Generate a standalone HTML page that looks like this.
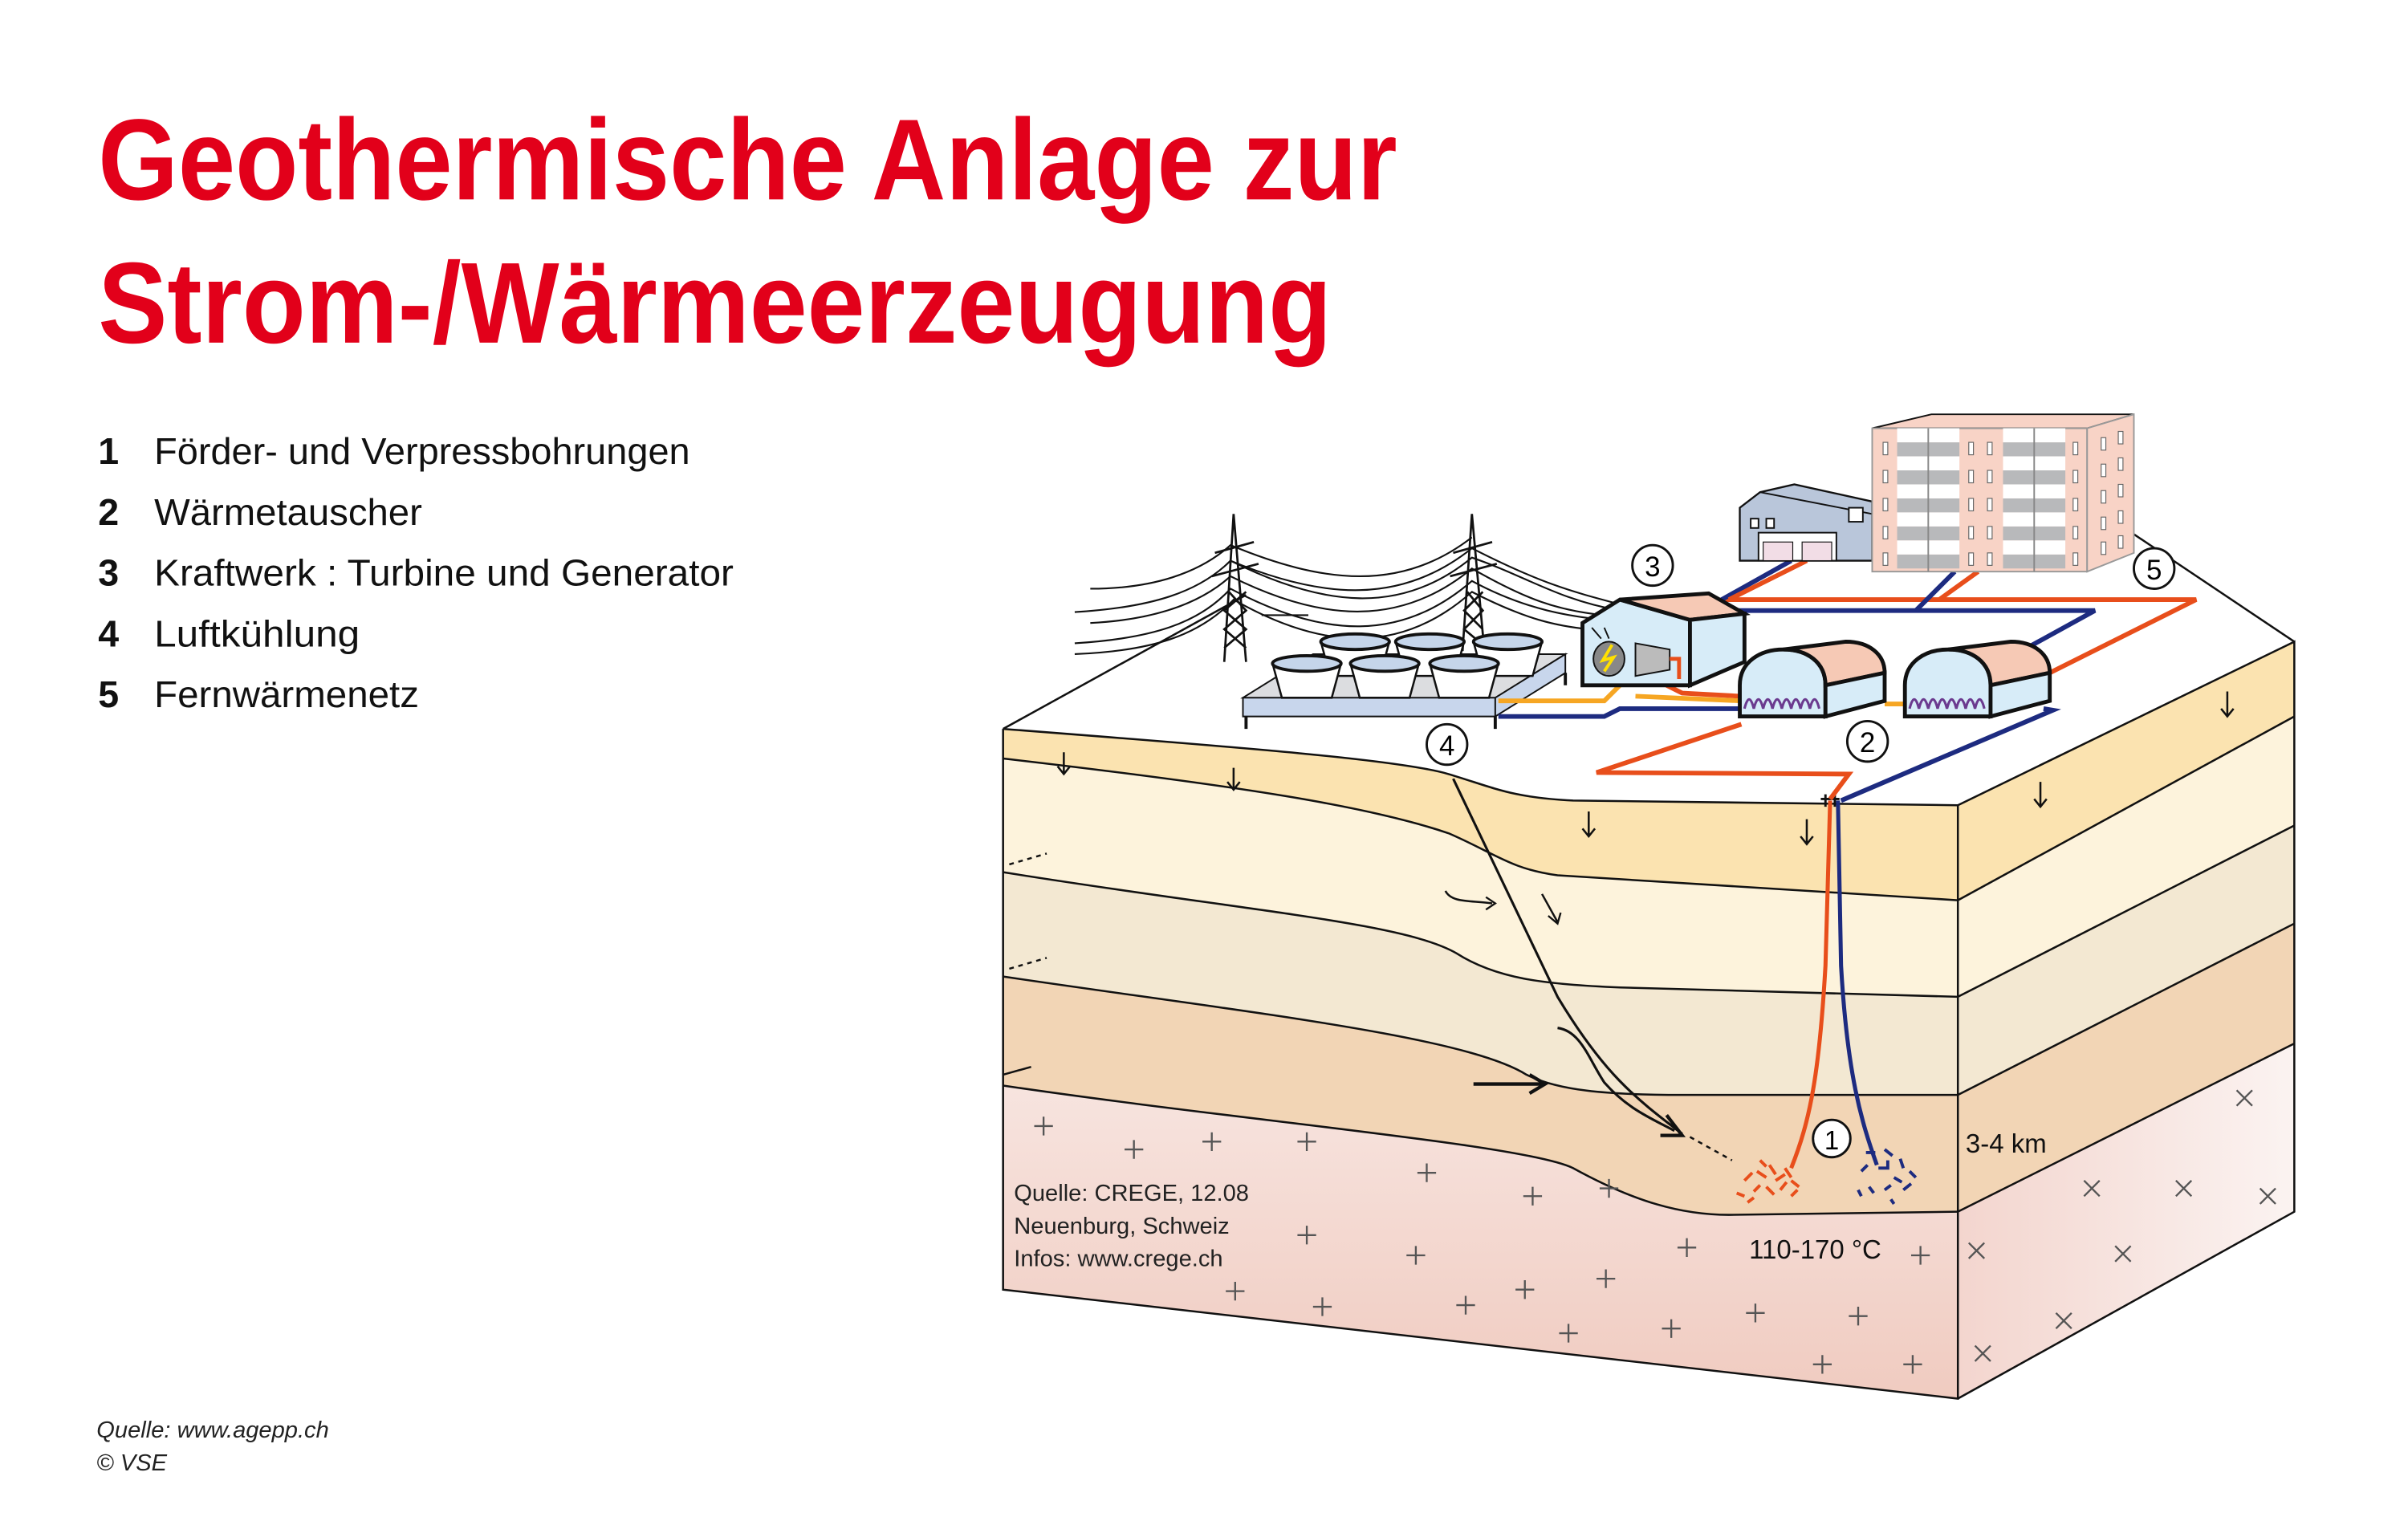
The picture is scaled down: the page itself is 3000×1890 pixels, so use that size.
<!DOCTYPE html>
<html><head><meta charset="utf-8"><style>
html,body{margin:0;padding:0;background:#fff}
svg{display:block}
text{font-family:"Liberation Sans Narrow","Liberation Sans",sans-serif}
</style></head><body>
<svg width="3000" height="1890" viewBox="0 0 1546 974" preserveAspectRatio="none" xmlns="http://www.w3.org/2000/svg">
<defs>
<linearGradient id="pk" x1="0" y1="0" x2="0" y2="1"><stop offset="0" stop-color="#f7e4df"/><stop offset="1" stop-color="#f0cbc0"/></linearGradient>
<linearGradient id="pk2" x1="0" y1="0" x2="1" y2="0"><stop offset="0" stop-color="#f3d5ce"/><stop offset="1" stop-color="#fbf3f1"/></linearGradient>
</defs>
<!-- Title -->
<text x="63" y="128" font-size="74" font-weight="bold" fill="#e2001a" textLength="834" lengthAdjust="spacingAndGlyphs">Geothermische Anlage zur</text>
<text x="63" y="220" font-size="74" font-weight="bold" fill="#e2001a" textLength="792" lengthAdjust="spacingAndGlyphs">Strom-/Wärmeerzeugung</text>
<!-- list -->
<g font-size="24" fill="#111">
<text x="63" y="298" font-weight="bold">1</text><text x="99" y="298" textLength="344" lengthAdjust="spacingAndGlyphs">Förder- und Verpressbohrungen</text>
<text x="63" y="337" font-weight="bold">2</text><text x="99" y="337" textLength="172" lengthAdjust="spacingAndGlyphs">Wärmetauscher</text>
<text x="63" y="376" font-weight="bold">3</text><text x="99" y="376" textLength="372" lengthAdjust="spacingAndGlyphs">Kraftwerk : Turbine und Generator</text>
<text x="63" y="415" font-weight="bold">4</text><text x="99" y="415" textLength="132" lengthAdjust="spacingAndGlyphs">Luftkühlung</text>
<text x="63" y="454" font-weight="bold">5</text><text x="99" y="454" textLength="170" lengthAdjust="spacingAndGlyphs">Fernwärmenetz</text>
</g>
<g font-size="15" font-style="italic" fill="#222">
<text x="62" y="923">Quelle: www.agepp.ch</text>
<text x="62" y="944">© VSE</text>
</g>

<!-- Block right face -->
<polygon points="1257,517 1473,412 1473,778 1257,898" fill="#fdf3dc"/>
<polygon points="1257,517 1473,412 1473,460 1257,578" fill="#fbe3b0"/>
<polygon points="1257,640 1473,530 1473,593 1257,703" fill="#f3e8d2"/>
<polygon points="1257,703 1473,593 1473,670 1257,778" fill="#f2d5b5"/>
<polygon points="1257,778 1473,670 1473,778 1257,898" fill="url(#pk2)"/>
<g stroke="#111" stroke-width="1.3" fill="none">
<polyline points="1257,578 1473,460"/><polyline points="1257,640 1473,530"/><polyline points="1257,703 1473,593"/><polyline points="1257,778 1473,670"/>
<polyline points="1257,517 1473,412 1473,778 1257,898"/>
</g>
<!-- front face layers -->
<path d="M644,697 C800,720 980,735 1010,750 C1050,772 1080,780 1110,780 L1257,778 L1257,898 L644,828 Z" fill="url(#pk)"/>
<path d="M644,627 C800,650 940,665 980,690 C1000,700 1030,703 1080,703 L1257,703 L1257,778 L1110,780 C1080,780 1050,772 1010,750 C980,735 800,720 644,697 Z" fill="#f2d5b5"/>
<path d="M644,560 C800,585 900,592 935,612 C960,628 990,632 1040,634 L1257,640 L1257,703 L1080,703 C1030,703 1000,700 980,690 C940,665 800,650 644,627 Z" fill="#f3e8d2"/>
<path d="M644,487 C800,505 880,518 930,535 C960,548 970,558 1000,562 L1257,578 L1257,640 L1040,634 C990,632 960,628 935,612 C900,592 800,585 644,560 Z" fill="#fdf3dc"/>
<path d="M644,468 C800,480 900,488 930,497 C960,506 970,512 1010,514 L1257,517 L1257,578 L1000,562 C970,558 960,548 930,535 C880,518 800,505 644,487 Z" fill="#fbe3b0"/>
<g stroke="#111" stroke-width="1.3" fill="none">
<path d="M644,468 C800,480 900,488 930,497 C960,506 970,512 1010,514 L1257,517"/>
<path d="M644,487 C800,505 880,518 930,535 C960,548 970,558 1000,562 L1257,578"/>
<path d="M644,560 C800,585 900,592 935,612 C960,628 990,632 1040,634 L1257,640"/>
<path d="M644,627 C800,650 940,665 980,690 C1000,700 1030,703 1080,703 L1257,703"/>
<path d="M644,697 C800,720 980,735 1010,750 C1050,772 1080,780 1110,780 L1257,778"/>
<polyline points="644,468 644,828 1257,898 1257,517"/>
<path d="M933,500 L1000,640 C1030,690 1050,705 1080,728" stroke-width="1.6"/>
<path d="M1000,660 C1015,662 1020,680 1030,695 C1045,712 1060,718 1075,726" stroke-width="1.6"/>
<path d="M1085,730 L1112,745" stroke-dasharray="3,3"/>
<path d="M648,555 L672,548" stroke-dasharray="3,3"/><path d="M648,622 L672,615" stroke-dasharray="3,3"/>
<path d="M928,572 C932,580 945,578 958,580"/><path d="M990,574 L1000,592"/>
<path d="M644,690 L662,685"/>
</g>
<g stroke="#111" stroke-width="2.2" fill="none">
<path d="M946,696 L990,696"/><path d="M982,690 L992,696 L982,702"/>
<path d="M1070,716 L1080,729 L1066,729"/>
</g>
<g stroke="#111" stroke-width="1.2" fill="none">
<path d="M954,576 L960,580 L954,584"/><path d="M994,588 L1000,593 L1002,586"/>
</g>
<!-- small down arrows -->
<g stroke="#111" stroke-width="1.3" fill="none">
<path d="M683,483 v14 m-4,-5 l4,5 l4,-5"/>
<path d="M792,493 v14 m-4,-5 l4,5 l4,-5"/>
<path d="M1020,521 v16 m-4,-5 l4,5 l4,-5"/>
<path d="M1160,526 v16 m-4,-5 l4,5 l4,-5"/>
<path d="M1430,444 v16 m-4,-5 l4,5 l4,-5"/>
<path d="M1310,502 v16 m-4,-5 l4,5 l4,-5"/>
</g>
<!-- crosses -->
<g stroke="#555" stroke-width="1.2" fill="none">
<path d="M664,723h12m-6,-6v12 M722,738h12m-6,-6v12 M772,733h12m-6,-6v12 M833,733h12m-6,-6v12 M910,753h12m-6,-6v12 M978,768h12m-6,-6v12 M1027,763h12m-6,-6v12 M833,793h12m-6,-6v12 M903,806h12m-6,-6v12 M1077,801h12m-6,-6v12 M1227,806h12m-6,-6v12 M787,829h12m-6,-6v12 M843,839h12m-6,-6v12 M935,838h12m-6,-6v12 M973,828h12m-6,-6v12 M1025,821h12m-6,-6v12 M1001,856h12m-6,-6v12 M1067,853h12m-6,-6v12 M1121,843h12m-6,-6v12 M1187,845h12m-6,-6v12 M1164,876h12m-6,-6v12 M1222,876h12m-6,-6v12"/>
<path d="M1436,700l10,10m0,-10l-10,10 M1338,758l10,10m0,-10l-10,10 M1397,758l10,10m0,-10l-10,10 M1451,763l10,10m0,-10l-10,10 M1264,798l10,10m0,-10l-10,10 M1358,800l10,10m0,-10l-10,10 M1320,843l10,10m0,-10l-10,10 M1268,864l10,10m0,-10l-10,10"/>
</g>
<!-- wells -->
<path d="M1175,514 L1172,620 C1168,690 1162,720 1150,750" stroke="#e84e1b" stroke-width="2.6" fill="none"/>
<path d="M1180,514 L1182,620 C1186,690 1195,720 1205,748" stroke="#1d2b80" stroke-width="2.6" fill="none"/>
<path d="M1172,510 v8 M1178,510 v8 M1169,513 h12" stroke="#111" stroke-width="1.5"/>
<g stroke="#e84e1b" stroke-width="2" fill="none">
<path d="M1120,758l5,-5 M1128,752l6,4 M1136,748l4,6 M1140,758l6,-4 M1146,750l4,6 M1126,765l4,-4 M1134,762l5,5 M1143,764l4,-5 M1150,758l5,4 M1115,766l5,2 M1130,745l4,4 M1150,768l4,-4 M1122,772l4,-3"/>
</g>
<g stroke="#1d2b80" stroke-width="2" fill="none">
<path d="M1198,740h6 M1210,738l5,4 M1220,744l2,6 M1195,752l4,-4 M1206,750h6v-5 M1216,756l5,3 M1200,762l3,4 M1210,764l4,-3 M1222,764l5,-4 M1226,752l4,4 M1193,764l2,4 M1214,770l2,3"/>
</g>
<circle cx="1176" cy="731" r="12" fill="#fff" stroke="#111" stroke-width="1.5"/>
<text x="1176" y="738" font-size="17" text-anchor="middle">1</text>
<g font-size="17" fill="#111">
<text x="1262" y="740">3-4 km</text>
<text x="1123" y="808">110-170 °C</text>
</g>
<g font-size="15" fill="#222">
<text x="651" y="771">Quelle: CREGE, 12.08</text>
<text x="651" y="792">Neuenburg, Schweiz</text>
<text x="651" y="813">Infos:  www.crege.ch</text>
</g>

<!-- top surface edges -->
<g stroke="#111" stroke-width="1.3" fill="none">
<path d="M644,468 L800,382"/><path d="M1370,343 L1473,412"/>
</g>
<!-- power lines -->
<g stroke="#111" stroke-width="1.1" fill="none">
<path d="M700,378 C740,378 770,368 790,350 C850,375 900,380 945,345"/>
<path d="M690,393 C740,390 770,380 790,360 C850,390 900,395 945,358 C980,370 1000,385 1040,392"/>
<path d="M700,400 C740,398 770,388 790,370 C850,400 900,402 945,365 C980,385 1000,392 1030,395"/>
<path d="M690,413 C740,410 770,400 790,378 C850,410 900,412 945,373 C980,392 1010,396 1030,398"/>
<path d="M690,420 C740,418 770,408 792,385 C850,418 900,420 945,380 C980,398 1000,402 1020,404"/>
<path d="M790,360 C850,385 900,388 945,352 C990,375 1010,380 1040,388"/>
<path d="M810,395 L840,395"/>
</g>
<g stroke="#111" stroke-width="1.4" fill="none">
<path d="M792,330 L786,425 M792,330 L800,425 M780,355 L805,348 M778,370 L808,362 M789,380 L800,392 L786,404 L800,416 M800,380 L786,392 L800,404 L786,416"/>
<path d="M945,330 L939,418 M945,330 L953,418 M933,355 L958,348 M931,370 L961,362 M942,380 L952,392 L940,404 L952,414 M952,380 L940,392 L952,404"/>
</g>
<!-- cooling platform -->
<polygon points="798,448 960,448 1005,420 843,420" fill="#dcdde0" stroke="#111" stroke-width="1"/>
<polygon points="798,448 960,448 960,460 798,460" fill="#c8d6ec" stroke="#111" stroke-width="1"/>
<polygon points="960,448 1005,420 1005,432 960,460" fill="#c8d6ec" stroke="#111" stroke-width="1"/>
<path d="M800,460v8 M960,460v8 M1005,432v8" stroke="#111" stroke-width="2"/>
<g stroke="#111" stroke-width="1.3" fill="#fff">
<g transform="translate(870,412)"><path d="M-22,0 L-16,22 L16,22 L22,0 Z"/><ellipse rx="22" ry="5" fill="#c5d5ea" stroke-width="2"/></g>
<g transform="translate(918,412)"><path d="M-22,0 L-16,22 L16,22 L22,0 Z"/><ellipse rx="22" ry="5" fill="#c5d5ea" stroke-width="2"/></g>
<g transform="translate(968,412)"><path d="M-22,0 L-16,22 L16,22 L22,0 Z"/><ellipse rx="22" ry="5" fill="#c5d5ea" stroke-width="2"/></g>
<g transform="translate(839,426)"><path d="M-22,0 L-16,22 L16,22 L22,0 Z"/><ellipse rx="22" ry="5" fill="#c5d5ea" stroke-width="2"/></g>
<g transform="translate(889,426)"><path d="M-22,0 L-16,22 L16,22 L22,0 Z"/><ellipse rx="22" ry="5" fill="#c5d5ea" stroke-width="2"/></g>
<g transform="translate(940,426)"><path d="M-22,0 L-16,22 L16,22 L22,0 Z"/><ellipse rx="22" ry="5" fill="#c5d5ea" stroke-width="2"/></g>
</g>
<!-- pipes on surface -->
<g fill="none" stroke-width="3">
<path d="M962,450 L1030,450 L1040,440" stroke="#f6a623"/>
<path d="M962,460 L1030,460 L1040,455 L1118,455" stroke="#1d2b80"/>
<path d="M1070,440 L1080,445 L1117,447" stroke="#e84e1b"/>
<path d="M1050,447 L1118,450 M1210,452 L1225,452" stroke="#f6a623"/>
<path d="M1118,465 L1025,496 L1187,497 L1175,513" stroke="#e84e1b"/>
<path d="M1312,455 L1318,456 L1182,514" stroke="#1d2b80"/>
<path d="M1095,392 L1345,392 L1285,425" stroke="#1d2b80"/>
<path d="M1105,385 L1410,385 L1300,440" stroke="#e84e1b"/>
<path d="M1100,388 L1150,360 M1255,367 L1230,392" stroke="#1d2b80"/>
<path d="M1110,385 L1160,360 M1270,367 L1245,385" stroke="#e84e1b"/>
</g>
<!-- power house -->
<polygon points="1016,400 1040,385 1085,398 1085,440 1016,440" fill="#d7ecf8" stroke="#111" stroke-width="2.5"/>
<polygon points="1040,385 1097,381 1120,394 1085,398" fill="#f6c9b5" stroke="#111" stroke-width="2.5"/>
<polygon points="1085,398 1120,394 1120,425 1085,440" fill="#d7ecf8" stroke="#111" stroke-width="2.5"/>
<ellipse cx="1033" cy="423" rx="10" ry="11" fill="#888" stroke="#111"/>
<path d="M1035,414 L1029,424 L1036,422 L1030,431" stroke="#ffe000" stroke-width="2" fill="none"/>
<path d="M1050,413 L1072,417 L1072,430 L1050,434 Z" fill="#bbb" stroke="#111"/>
<path d="M1028,410 L1022,403 M1033,410 L1030,403" stroke="#111"/>
<path d="M1072,423 L1078,423 L1078,436" stroke="#e84e1b" stroke-width="2.5" fill="none"/>
<circle cx="1061" cy="363" r="13" fill="#fff" stroke="#111" stroke-width="1.5"/>
<text x="1061" y="370" font-size="18" text-anchor="middle">3</text>
<!-- heat exchangers -->
<g stroke="#111" stroke-width="2.5">
<path d="M1117,460 L1117,440 C1117,425 1130,417 1145,417 C1160,417 1172,425 1172,440 L1172,460 Z" fill="#d7ecf8"/>
<path d="M1145,417 L1185,412 C1200,412 1210,420 1210,432 L1172,440 C1172,425 1160,417 1145,417 Z" fill="#f6c9b5"/>
<path d="M1172,440 L1210,432 L1210,450 L1172,460 Z" fill="#d7ecf8"/>
<path d="M1223,460 L1223,440 C1223,425 1236,417 1251,417 C1266,417 1278,425 1278,440 L1278,460 Z" fill="#d7ecf8"/>
<path d="M1251,417 L1291,412 C1306,412 1316,420 1316,432 L1278,440 C1278,425 1266,417 1251,417 Z" fill="#f6c9b5"/>
<path d="M1278,440 L1316,432 L1316,450 L1278,460 Z" fill="#d7ecf8"/>
</g>
<path d="M1120,455 q3,-12 6,0 q3,-12 6,0 q3,-12 6,0 q3,-12 6,0 q3,-12 6,0 q3,-12 6,0 q3,-12 6,0 q3,-12 6,0" stroke="#6b3a8f" stroke-width="1.6" fill="none"/>
<path d="M1226,455 q3,-12 6,0 q3,-12 6,0 q3,-12 6,0 q3,-12 6,0 q3,-12 6,0 q3,-12 6,0 q3,-12 6,0 q3,-12 6,0" stroke="#6b3a8f" stroke-width="1.6" fill="none"/>
<circle cx="1199" cy="476" r="13" fill="#fff" stroke="#111" stroke-width="1.5"/>
<text x="1199" y="483" font-size="18" text-anchor="middle">2</text>
<!-- small house -->
<polygon points="1117,360 1117,326 1130,316 1152,311 1202,322 1202,360" fill="#b9c6da" stroke="#111" stroke-width="1.2"/>
<path d="M1130,316 L1202,330" stroke="#111" fill="none"/>
<rect x="1124" y="333" width="5" height="6" fill="#fff" stroke="#111"/><rect x="1134" y="333" width="5" height="6" fill="#fff" stroke="#111"/>
<rect x="1187" y="326" width="9" height="9" fill="#fff" stroke="#111"/>
<rect x="1129" y="342" width="50" height="18" fill="#fff" stroke="#111"/>
<rect x="1132" y="348" width="19" height="12" fill="#f2dde6" stroke="#111" stroke-width=".6"/><rect x="1157" y="348" width="19" height="12" fill="#f2dde6" stroke="#111" stroke-width=".6"/>
<!-- apartment -->
<polygon points="1202,275 1240,266 1370,266 1340,275" fill="#f8d3c6" stroke="#111" stroke-width="1"/>
<rect x="1202" y="275" width="138" height="92" fill="#f8d3c6" stroke="#999" stroke-width="1"/>
<polygon points="1340,275 1370,266 1370,355 1340,367" fill="#f8d3c6" stroke="#999" stroke-width="1"/>
<g fill="#b8b9bb">
<rect x="1218" y="284" width="40" height="9"/><rect x="1218" y="302" width="40" height="9"/><rect x="1218" y="320" width="40" height="9"/><rect x="1218" y="338" width="40" height="9"/><rect x="1218" y="356" width="40" height="9"/>
<rect x="1286" y="284" width="40" height="9"/><rect x="1286" y="302" width="40" height="9"/><rect x="1286" y="320" width="40" height="9"/><rect x="1286" y="338" width="40" height="9"/><rect x="1286" y="356" width="40" height="9"/>
</g>
<g fill="#fff">
<rect x="1218" y="275" width="40" height="9"/><rect x="1218" y="293" width="40" height="9"/><rect x="1218" y="311" width="40" height="9"/><rect x="1218" y="329" width="40" height="9"/><rect x="1218" y="347" width="40" height="9"/>
<rect x="1286" y="275" width="40" height="9"/><rect x="1286" y="293" width="40" height="9"/><rect x="1286" y="311" width="40" height="9"/><rect x="1286" y="329" width="40" height="9"/><rect x="1286" y="347" width="40" height="9"/>
</g>
<path d="M1238,275v92 M1306,275v92" stroke="#888"/>
<g fill="#fff" stroke="#666" stroke-width=".6">
<rect x="1209" y="284" width="3" height="8"/><rect x="1209" y="302" width="3" height="8"/><rect x="1209" y="320" width="3" height="8"/><rect x="1209" y="338" width="3" height="8"/><rect x="1209" y="355" width="3" height="8"/>
<rect x="1264" y="284" width="3" height="8"/><rect x="1264" y="302" width="3" height="8"/><rect x="1264" y="320" width="3" height="8"/><rect x="1264" y="338" width="3" height="8"/><rect x="1264" y="355" width="3" height="8"/>
<rect x="1276" y="284" width="3" height="8"/><rect x="1276" y="302" width="3" height="8"/><rect x="1276" y="320" width="3" height="8"/><rect x="1276" y="338" width="3" height="8"/><rect x="1276" y="355" width="3" height="8"/>
<rect x="1331" y="284" width="3" height="8"/><rect x="1331" y="302" width="3" height="8"/><rect x="1331" y="320" width="3" height="8"/><rect x="1331" y="338" width="3" height="8"/><rect x="1331" y="355" width="3" height="8"/>
<rect x="1349" y="281" width="3" height="8"/><rect x="1349" y="298" width="3" height="8"/><rect x="1349" y="315" width="3" height="8"/><rect x="1349" y="332" width="3" height="8"/><rect x="1349" y="348" width="3" height="8"/>
<rect x="1360" y="277" width="3" height="8"/><rect x="1360" y="294" width="3" height="8"/><rect x="1360" y="311" width="3" height="8"/><rect x="1360" y="328" width="3" height="8"/><rect x="1360" y="344" width="3" height="8"/>
</g>
<circle cx="1383" cy="365" r="13" fill="#fff" stroke="#111" stroke-width="1.5"/>
<text x="1383" y="372" font-size="18" text-anchor="middle">5</text>
<circle cx="929" cy="478" r="13" fill="#fff" stroke="#111" stroke-width="1.5"/>
<text x="929" y="485" font-size="18" text-anchor="middle">4</text>
</svg>
</body></html>
